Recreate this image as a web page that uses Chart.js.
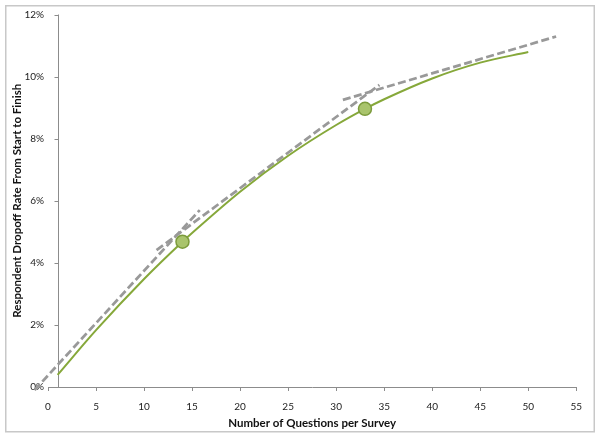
<!DOCTYPE html>
<html><head><meta charset="utf-8">
<script src="https://cdn.jsdelivr.net/npm/chart.js@4.4.1/dist/chart.umd.min.js"></script>
<style>html,body{margin:0;padding:0;background:#fff;}canvas{display:block;}</style>
</head><body>
<canvas id="c" width="600" height="437"></canvas>
<script>
const xTitle = 'Number of Questions per Survey';
const yTitle = 'Respondent Dropoff Rate From Start to Finish';
const xTicks = [0, 5, 10, 15, 20, 25, 30, 35, 40, 45, 50, 55];
const yTicks = [0, 2, 4, 6, 8, 10, 12];

// fitted dropoff curve (percent)
const curveQ    = [1, 5, 10, 14, 15, 20, 25, 30, 33, 35, 40, 45, 50];
const curveRate = [0.39, 1.83, 3.48, 4.68, 4.96, 6.29, 7.45, 8.44, 8.96, 9.27, 9.94, 10.45, 10.79];

// highlighted points
const markerQ    = [14, 33];
const markerRate = [4.68, 8.96];

// dashed linear trend segments
const trendAQ = [-1.4, 15.8];  const trendARate = [-0.1, 5.7];
const trendBQ = [11.3, 34.5];  const trendBRate = [4.41, 9.73];
const trendCQ = [30.7, 52.9];  const trendCRate = [9.25, 11.29];

const yAxisCrossAt = 1;

const pts = (xs, ys) => xs.map((x, i) => ({x: x, y: ys[i]}));
const FONT = 'Lato, "Open Sans", sans-serif';
const AXIS = '#8c8c8c';

const framePlugin = {
  id: 'frame',
  beforeDraw(chart) {
    const ctx = chart.ctx;
    ctx.save();
    ctx.fillStyle = '#fff';
    ctx.fillRect(0, 0, chart.width, chart.height);
    ctx.strokeStyle = '#c8c8c8';
    ctx.lineWidth = 1.5;
    ctx.strokeRect(5.75, 5.75, chart.width - 11.5, chart.height - 11);
    ctx.restore();
  },
  beforeDatasetsDraw(chart) {
    const ctx = chart.ctx, xs = chart.scales.x, ys = chart.scales.y;
    const px = Math.round(xs.getPixelForValue(yAxisCrossAt)) + 0.5;
    ctx.save();
    ctx.strokeStyle = AXIS;
    ctx.lineWidth = 1;
    ctx.beginPath();
    ctx.moveTo(px, ys.getPixelForValue(yTicks[yTicks.length - 1]));
    ctx.lineTo(px, ys.getPixelForValue(yTicks[0]));
    yTicks.forEach(v => {
      const py = Math.round(ys.getPixelForValue(v)) + 0.5;
      ctx.moveTo(px - 4, py);
      ctx.lineTo(px, py);
    });
    ctx.stroke();
    ctx.restore();
  }
};

const dashStyle = {
  showLine: true, borderColor: '#999999', borderWidth: 2.75, borderDash: [8, 3.5],
  pointRadius: 0, pointHoverRadius: 0, fill: false, clip: false, borderCapStyle: 'butt'
};

new Chart(document.getElementById('c'), {
  type: 'scatter',
  data: {
    datasets: [
      { data: pts(markerQ, markerRate), pointRadius: 6.5, pointBackgroundColor: '#a9c46c',
        pointBorderColor: '#7c9b3c', pointBorderWidth: 1.5, showLine: false, clip: false },
      { data: pts(curveQ, curveRate), showLine: true, borderColor: '#86a83a', borderWidth: 2,
        pointRadius: 0, cubicInterpolationMode: 'monotone', fill: false, clip: false },
      Object.assign({ data: pts(trendAQ, trendARate) }, dashStyle),
      Object.assign({ data: pts(trendBQ, trendBRate) }, dashStyle),
      Object.assign({ data: pts(trendCQ, trendCRate) }, dashStyle)
    ]
  },
  options: {
    responsive: false,
    animation: false,
    devicePixelRatio: 1,
    layout: { padding: { left: 6, top: 14.5, right: 23.7, bottom: 7 } },
    plugins: { legend: { display: false }, tooltip: { enabled: false } },
    scales: {
      x: {
        type: 'linear', min: xTicks[0], max: xTicks[xTicks.length - 1],
        afterBuildTicks: s => { s.ticks = xTicks.map(v => ({value: v})); },
        afterFit: s => { s.height = 43; },
        grid: { display: true, drawOnChartArea: false, drawTicks: true, tickLength: 4, color: AXIS },
        border: { display: true, color: AXIS, width: 1 },
        ticks: { font: { family: FONT, size: 10 }, color: '#222', padding: 10, maxRotation: 0 },
        title: { display: true, text: xTitle, font: { family: FONT, size: 11.5, weight: 'bold' },
                 color: '#111', padding: { top: 0, bottom: 0 } }
      },
      y: {
        type: 'linear', min: yTicks[0], max: yTicks[yTicks.length - 1],
        afterBuildTicks: s => { s.ticks = yTicks.map(v => ({value: v})); },
        afterFit: s => { s.width = 42; },
        grid: { display: false, drawTicks: false },
        border: { display: false },
        ticks: { font: { family: FONT, size: 10 }, color: '#222', padding: 4,
                 callback: v => v + '%' },
        title: { display: true, text: yTitle, font: { family: FONT, size: 11.5, weight: 'bold' },
                 color: '#111', padding: { top: 4, bottom: 4 } }
      }
    }
  },
  plugins: [framePlugin]
});
</script>
</body></html>
